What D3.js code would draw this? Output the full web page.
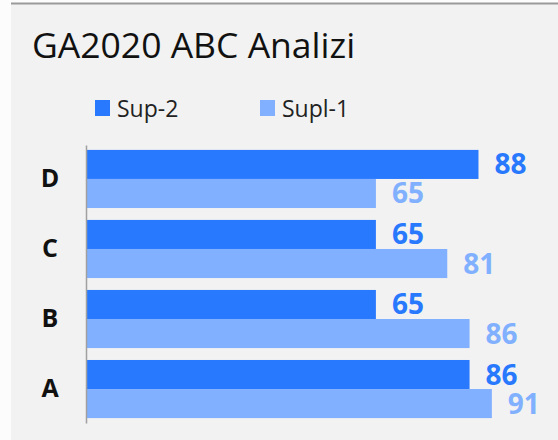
<!DOCTYPE html>
<html>
<head>
<meta charset="utf-8">
<script src="https://cdn.jsdelivr.net/npm/d3@7"></script>
<style>
  html, body { margin: 0; padding: 0; background: #fcfcfc; }
  svg { display: block; font-family: "Open Sans", sans-serif; }
</style>
</head>
<body>
<div id="chart"></div>
<script>
// GA2020 ABC Analizi - grouped horizontal bars
const categories = ['D', 'C', 'B', 'A'];
const seriesNames = ['Sup-2', 'Supl-1'];
const sup2 = [88, 65, 65, 86];
const supl1 = [65, 81, 86, 91];

const colors = { 'Sup-2': '#2979ff', 'Supl-1': '#80b0ff' };
const W = 558, H = 440;

const rows = categories.map((c, i) => ({ cat: c, 'Sup-2': sup2[i], 'Supl-1': supl1[i] }));

const svg = d3.select('#chart').append('svg')
  .attr('width', W)
  .attr('height', H);

// panel
svg.append('rect')
  .attr('x', 11).attr('y', 3)
  .attr('width', W - 11).attr('height', H - 3)
  .attr('fill', '#f2f2f2');
svg.append('line')
  .attr('x1', 11).attr('x2', W)
  .attr('y1', 3.5).attr('y2', 3.5)
  .attr('stroke', '#9a9a9a')
  .attr('stroke-width', 2);

// title
svg.append('text')
  .attr('x', 32).attr('y', 58)
  .attr('font-size', 35.5)
  .attr('fill', '#111')
  .text('GA2020 ABC Analizi');

// legend
const legendX = [95, 260];
const legend = svg.selectAll('.legend')
  .data(seriesNames)
  .join('g')
  .attr('class', 'legend')
  .attr('transform', (d, i) => `translate(${legendX[i]},100)`);
legend.append('rect')
  .attr('width', 15).attr('height', 16)
  .attr('fill', d => colors[d]);
legend.append('text')
  .attr('x', 22).attr('y', 17)
  .attr('font-size', 23)
  .attr('fill', '#222')
  .text(d => d);

// scales
const x = d3.scaleLinear().domain([0, 100]).range([86, 532]);
const y = d3.scaleBand().domain(categories).range([145, 423])
  .paddingInner(0.17).paddingOuter(0.07);
const ySub = d3.scaleBand().domain(seriesNames).range([0, y.bandwidth()]);

// bars
const groups = svg.selectAll('.grp')
  .data(rows)
  .join('g')
  .attr('class', 'grp')
  .attr('transform', d => `translate(0,${y(d.cat)})`);

groups.selectAll('rect')
  .data(d => seriesNames.map(s => ({ s, v: d[s] })))
  .join('rect')
  .attr('x', x(0))
  .attr('y', d => ySub(d.s))
  .attr('width', d => x(d.v) - x(0))
  .attr('height', ySub.bandwidth())
  .attr('fill', d => colors[d.s]);

groups.selectAll('.val')
  .data(d => seriesNames.map(s => ({ s, v: d[s] })))
  .join('text')
  .attr('class', 'val')
  .attr('x', d => x(d.v) + 16)
  .attr('y', d => ySub(d.s) + ySub.bandwidth() / 2 + 10)
  .attr('font-size', 28)
  .attr('font-weight', 700)
  .attr('fill', d => colors[d.s])
  .text(d => d.v);

// category axis
const axis = svg.append('g')
  .attr('transform', `translate(${x(0)},0)`)
  .call(d3.axisLeft(y).tickSize(0).tickPadding(36));
axis.select('.domain')
  .attr('stroke', '#a0a0a0')
  .attr('stroke-width', 1.5);
axis.selectAll('.tick text')
  .attr('text-anchor', 'middle')
  .attr('font-family', '"Open Sans", sans-serif')
  .attr('font-size', 25)
  .attr('font-weight', 700)
  .attr('fill', '#111');
</script>
</body>
</html>
